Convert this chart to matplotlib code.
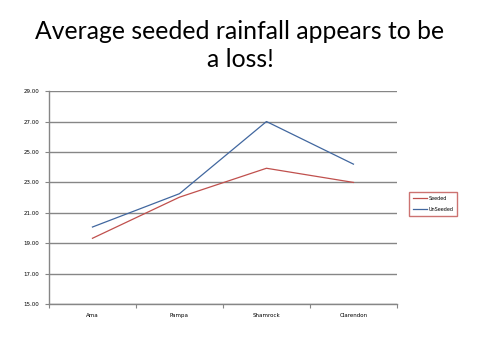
import matplotlib.pyplot as plt
import numpy as np

cities = ["Ama", "Pampa", "Shamrock", "Clarendon"]
seeded = [19.33, 22.03, 23.93, 23.00]
unseeded = [20.07, 22.26, 27.00, 24.20]
yticks = [15, 17, 19, 21, 23, 25, 27, 29]

fig = plt.figure(figsize=(4.8, 3.6), dpi=100)
fig.text(0.5, 0.873, "Average seeded rainfall appears to be\na loss!",
         ha="center", va="center", fontsize=17.8, family="Lato",
         linespacing=1.25)

ax = fig.add_axes([0.102, 0.155, 0.725, 0.592])
x = np.arange(len(cities)) + 0.5
ax.plot(x, seeded, color="#C0504D", lw=0.9, label="Seeded")
ax.plot(x, unseeded, color="#41679F", lw=0.9, label="UnSeeded")

ax.set_xlim(0, len(cities))
ax.set_ylim(15, 29)
ax.set_yticks(yticks)
ax.set_yticklabels([f"{v:.2f}" for v in yticks], fontsize=4)
ax.yaxis.grid(True, color="#868686", lw=1.0)
ax.set_axisbelow(True)
ax.set_xticks(np.arange(len(cities) + 1))
ax.set_xticklabels([])
ax.set_xticks(x, minor=True)
ax.set_xticklabels(cities, minor=True, fontsize=4)
ax.tick_params(axis="x", which="minor", length=0, pad=6)
ax.tick_params(axis="x", which="major", length=3, color="#868686")
ax.tick_params(axis="y", length=3, color="#868686", pad=4)
for s in ["top", "right"]:
    ax.spines[s].set_visible(False)
for s in ["left", "bottom"]:
    ax.spines[s].set_color("#868686")
    ax.spines[s].set_linewidth(1.0)

leg = ax.legend(loc="center left", bbox_to_anchor=(1.035, 0.47), fontsize=3.5,
                frameon=True, fancybox=False, handlelength=3.0,
                handletextpad=0.3, borderpad=0.7, labelspacing=1.3,
                borderaxespad=0)
leg.get_frame().set_edgecolor("#C0504D")
leg.get_frame().set_linewidth(1.0)

fig.savefig("out.png", dpi=100)
